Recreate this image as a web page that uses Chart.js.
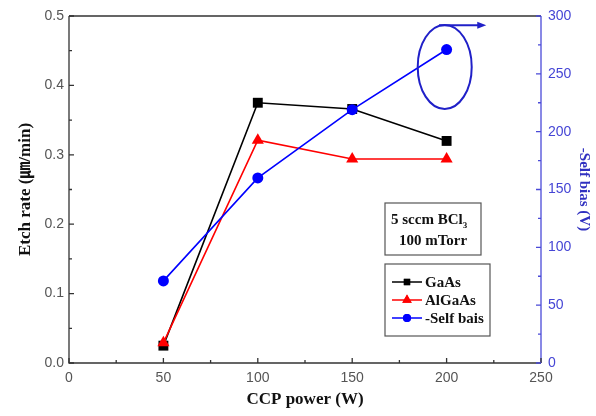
<!DOCTYPE html>
<html>
<head>
<meta charset="utf-8">
<script src="https://cdn.jsdelivr.net/npm/chart.js@4/dist/chart.umd.min.js"></script>
<style>
html,body{margin:0;padding:0;background:#fff;}
#wrap{width:596px;height:416px;}
</style>
</head>
<body>
<div id="wrap"><canvas id="c" width="596" height="416"></canvas></div>
<script>
// ---- data ----
const powers = [50, 100, 150, 200];
const gaasRate = [0.025, 0.375, 0.366, 0.320];
const algaasRate = [0.029, 0.321, 0.294, 0.294];
const selfBias = [71, 160, 219, 271];
const xTicks = [0, 50, 100, 150, 200, 250];
const yTicks = [0.0, 0.1, 0.2, 0.3, 0.4, 0.5];
const y1Ticks = [0, 50, 100, 150, 200, 250, 300];
const seriesNames = ['GaAs', 'AlGaAs', '-Self bais'];
const noteLines = ['5 sccm BCl', '100 mTorr'];
// ellipse annotation (in data units: x, right-axis value) and arrow
const ellipseAt = [199, 256];
const arrowFrom = [196, 292];
const arrowTo = [221, 292];

const AXIS = '#333333';
const TICKTXT = '#555555';
const BLUE = '#0000ff';
const BLUEAX = '#4a4ad8';
const RED = '#ff0000';

function pts(ys){ return powers.map((p,i)=>({x:p,y:ys[i]})); }

const fix = (w,h) => function(scale){ if(w!=null) scale.width = w; if(h!=null) scale.height = h; };

const framePlugin = {
  id:'frame',
  afterDatasetsDraw(chart){
    const ctx = chart.ctx, x = chart.scales.x, y1 = chart.scales.y1;
    // ellipse
    const cx = x.getPixelForValue(ellipseAt[0]), cy = y1.getPixelForValue(ellipseAt[1]);
    ctx.save();
    ctx.strokeStyle = '#2020c8'; ctx.lineWidth = 2;
    ctx.beginPath(); ctx.ellipse(cx, cy, 27, 42, 0, 0, Math.PI*2); ctx.stroke();
    // arrow
    const ax0 = x.getPixelForValue(arrowFrom[0]), ay = y1.getPixelForValue(arrowFrom[1]);
    const ax1 = x.getPixelForValue(arrowTo[0]);
    ctx.beginPath(); ctx.moveTo(ax0, ay); ctx.lineTo(ax1-6, ay); ctx.stroke();
    ctx.fillStyle = '#2020c8';
    ctx.beginPath(); ctx.moveTo(ax1, ay); ctx.lineTo(ax1-9, ay-3.5); ctx.lineTo(ax1-9, ay+3.5); ctx.closePath(); ctx.fill();
    ctx.restore();
  },
  afterDraw(chart){
    const ctx = chart.ctx, a = chart.chartArea;
    const x = chart.scales.x, y = chart.scales.y, y1 = chart.scales.y1;
    ctx.save();
    ctx.lineWidth = 1.3;
    // frame
    ctx.strokeStyle = AXIS;
    ctx.beginPath();
    ctx.moveTo(a.left, a.top); ctx.lineTo(a.right, a.top);
    ctx.moveTo(a.left, a.top); ctx.lineTo(a.left, a.bottom); ctx.lineTo(a.right, a.bottom);
    ctx.stroke();
    ctx.strokeStyle = BLUEAX;
    ctx.beginPath(); ctx.moveTo(a.right, a.top); ctx.lineTo(a.right, a.bottom); ctx.stroke();
    // ticks
    ctx.strokeStyle = AXIS;
    ctx.beginPath();
    for (let v = 0; v <= 250; v += 25) {
      const px = x.getPixelForValue(v), len = (v % 50 === 0) ? 5 : 3;
      ctx.moveTo(px, a.bottom); ctx.lineTo(px, a.bottom - len);
    }
    for (let i = 0; i <= 10; i++) {
      const v = i * 0.05, py = y.getPixelForValue(v), len = (i % 2 === 0) ? 5 : 3;
      ctx.moveTo(a.left, py); ctx.lineTo(a.left + len, py);
    }
    ctx.stroke();
    ctx.strokeStyle = BLUEAX;
    ctx.beginPath();
    for (let v = 0; v <= 300; v += 25) {
      const py = y1.getPixelForValue(v), len = (v % 50 === 0) ? 5 : 3;
      ctx.moveTo(a.right, py); ctx.lineTo(a.right - len, py);
    }
    ctx.stroke();

    // note box
    ctx.strokeStyle = '#555'; ctx.lineWidth = 1.2;
    ctx.fillStyle = '#fff';
    ctx.fillRect(385, 203, 96, 52); ctx.strokeRect(385, 203, 96, 52);
    ctx.fillStyle = '#111';
    ctx.font = 'bold 15px "Liberation Serif"';
    ctx.textBaseline = 'middle';
    ctx.textAlign = 'left';
    const w0 = ctx.measureText(noteLines[0]).width;
    ctx.fillText(noteLines[0], 391, 220);
    ctx.font = 'bold 9px "Liberation Serif"';
    ctx.fillText('3', 391 + w0, 226);
    ctx.font = 'bold 15px "Liberation Serif"';
    ctx.textAlign = 'center';
    ctx.fillText(noteLines[1], 433, 241);

    // legend box
    ctx.fillStyle = '#fff';
    ctx.fillRect(385, 264, 105, 72); ctx.strokeRect(385, 264, 105, 72);
    const ds = chart.data.datasets;
    const rowsY = [282, 300, 318];
    ctx.textAlign = 'left';
    ctx.font = 'bold 15px "Liberation Serif"';
    rowsY.forEach((ry, i) => {
      const d = ds[i];
      ctx.strokeStyle = d.borderColor; ctx.lineWidth = 1.5;
      ctx.beginPath(); ctx.moveTo(392, ry); ctx.lineTo(422, ry); ctx.stroke();
      ctx.fillStyle = d.borderColor;
      Chart.helpers.drawPoint(ctx, {pointStyle: d.pointStyle, radius: i===1?5.5:(i===0?4.5:4), borderWidth: 0}, 407, ry);
      ctx.fill();
      ctx.fillStyle = '#111';
      ctx.fillText(seriesNames[i], 425, ry + 1);
    });
    ctx.restore();
  }
};

new Chart(document.getElementById('c'), {
  type: 'line',
  data: {
    datasets: [
      { label: seriesNames[0], data: pts(gaasRate), yAxisID: 'y', borderColor: '#000', backgroundColor: '#000',
        pointStyle: 'rect', pointRadius: 7, pointBorderWidth: 0, borderWidth: 1.6, order: 2 },
      { label: seriesNames[1], data: pts(algaasRate), yAxisID: 'y', borderColor: RED, backgroundColor: RED,
        pointStyle: 'triangle', pointRadius: 7, pointBorderWidth: 0, borderWidth: 1.6, order: 1 },
      { label: seriesNames[2], data: pts(selfBias), yAxisID: 'y1', borderColor: BLUE, backgroundColor: BLUE,
        pointStyle: 'circle', pointRadius: 5.5, pointBorderWidth: 0, borderWidth: 1.6, order: 0 }
    ]
  },
  options: {
    responsive: false,
    animation: false,
    layout: { padding: { top: 16, left: 0, right: 0, bottom: 0 } },
    plugins: { legend: { display: false }, tooltip: { enabled: false } },
    scales: {
      x: {
        type: 'linear', min: 0, max: 250,
        afterBuildTicks: s => { s.ticks = xTicks.map(v => ({value: v})); },
        afterFit: fix(null, 53),
        grid: { display: false, drawTicks: false },
        border: { display: false },
        ticks: { padding: 7, color: TICKTXT, font: { family: '"Liberation Sans"', size: 14 }, maxRotation: 0 },
        title: { display: true, text: 'CCP power (W)', color: '#111', padding: { top: 0, bottom: 6 },
                 font: { family: '"Liberation Serif"', size: 17, weight: 'bold', lineHeight: 1.2 } }
      },
      y: {
        type: 'linear', position: 'left', min: 0, max: 0.5,
        afterBuildTicks: s => { s.ticks = yTicks.map(v => ({value: v})); },
        afterFit: fix(69, null),
        grid: { display: false, drawTicks: false },
        border: { display: false },
        ticks: { padding: 5, color: TICKTXT, font: { family: '"Liberation Sans"', size: 14 },
                 callback: v => v.toFixed(1) },
        title: { display: true, text: 'Etch rate (㎛/min)', color: '#111', padding: { top: 15, bottom: 0 },
                 font: { family: '"Liberation Serif", "Noto Sans CJK KR"', size: 17, weight: 'bold', lineHeight: 1.2 } }
      },
      y1: {
        type: 'linear', position: 'right', min: 0, max: 300,
        afterBuildTicks: s => { s.ticks = y1Ticks.map(v => ({value: v})); },
        afterFit: fix(55, null),
        grid: { display: false, drawTicks: false },
        border: { display: false },
        ticks: { padding: 7, color: '#4545d5', font: { family: '"Liberation Sans"', size: 14 } },
        title: { display: true, text: '-Self bias (V)', color: '#3030c0', padding: { top: 4.5, bottom: 0 },
                 font: { family: '"Liberation Serif"', size: 15, weight: 'bold', lineHeight: 1.0 } }
      }
    }
  },
  plugins: [framePlugin]
});
</script>
</body>
</html>
